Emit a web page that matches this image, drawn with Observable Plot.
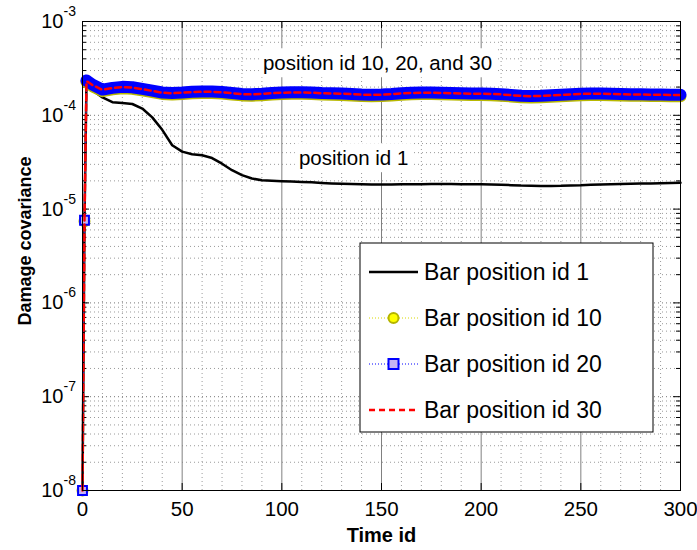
<!DOCTYPE html>
<html>
<head>
<meta charset="utf-8">
<script src="https://cdn.jsdelivr.net/npm/d3@7"></script>
<script src="https://cdn.jsdelivr.net/npm/@observablehq/plot@0.6"></script>
<style>
  html, body { margin: 0; padding: 0; background: #fff; }
  svg { display: block; }
</style>
</head>
<body>
<div id="chart"></div>
<script>
// ---- data ----
const timeId = [0, 1, 2, 3, 5, 10, 15, 20, 25, 30, 35, 40, 45, 50, 55, 60, 65, 70, 75, 80, 85, 90, 95, 100,
  105, 110, 115, 120, 125, 130, 135, 140, 145, 150, 155, 160, 165, 170, 175, 180, 185, 190, 195, 200,
  205, 210, 215, 220, 225, 230, 235, 240, 245, 250, 255, 260, 265, 270, 275, 280, 285, 290, 295, 300];

const pos1 = [1e-8, 7.5e-6, 2.25e-4, 2.1e-4, 1.85e-4, 1.55e-4, 1.38e-4, 1.35e-4, 1.32e-4, 1.18e-4,
  9.5e-5, 7.0e-5, 4.8e-5, 4.1e-5, 3.85e-5, 3.75e-5, 3.5e-5, 3.05e-5, 2.6e-5, 2.3e-5, 2.12e-5, 2.03e-5, 2.0e-5, 1.98e-5,
  1.97e-5, 1.95e-5, 1.93e-5, 1.9e-5, 1.88e-5, 1.86e-5, 1.85e-5, 1.84e-5, 1.83e-5, 1.83e-5, 1.83e-5, 1.84e-5,
  1.84e-5, 1.84e-5, 1.85e-5, 1.85e-5, 1.85e-5, 1.84e-5, 1.84e-5, 1.84e-5,
  1.83e-5, 1.82e-5, 1.8e-5, 1.78e-5, 1.77e-5, 1.76e-5, 1.76e-5, 1.77e-5, 1.79e-5, 1.8e-5, 1.82e-5, 1.83e-5,
  1.84e-5, 1.85e-5, 1.86e-5, 1.87e-5, 1.88e-5, 1.89e-5, 1.9e-5, 1.91e-5];

const pos10 = [1e-8, 7.4e-6, 2.26e-4, 2.19e-4, 2.04e-4, 1.81e-4, 1.89e-4, 1.94e-4, 1.92e-4, 1.84e-4,
  1.77e-4, 1.69e-4, 1.67e-4, 1.69e-4, 1.72e-4, 1.73e-4, 1.73e-4, 1.71e-4, 1.67e-4, 1.63e-4, 1.62e-4, 1.64e-4, 1.67e-4, 1.69e-4,
  1.7e-4, 1.7e-4, 1.69e-4, 1.67e-4, 1.66e-4, 1.65e-4, 1.63e-4, 1.61e-4, 1.6e-4, 1.61e-4, 1.63e-4, 1.66e-4,
  1.68e-4, 1.69e-4, 1.69e-4, 1.68e-4, 1.67e-4, 1.66e-4, 1.65e-4, 1.65e-4,
  1.64e-4, 1.62e-4, 1.59e-4, 1.56e-4, 1.55e-4, 1.56e-4, 1.58e-4, 1.6e-4, 1.62e-4, 1.64e-4, 1.65e-4, 1.65e-4,
  1.64e-4, 1.63e-4, 1.62e-4, 1.62e-4, 1.61e-4, 1.61e-4, 1.6e-4, 1.6e-4];

const pos20 = [1e-8, 7.6e-6, 2.35e-4, 2.27e-4, 2.12e-4, 1.88e-4, 1.96e-4, 2.01e-4, 1.99e-4, 1.91e-4,
  1.83e-4, 1.75e-4, 1.73e-4, 1.75e-4, 1.78e-4, 1.79e-4, 1.79e-4, 1.77e-4, 1.73e-4, 1.69e-4, 1.68e-4, 1.7e-4, 1.73e-4, 1.75e-4,
  1.76e-4, 1.76e-4, 1.75e-4, 1.73e-4, 1.72e-4, 1.71e-4, 1.69e-4, 1.67e-4, 1.66e-4, 1.67e-4, 1.69e-4, 1.72e-4,
  1.74e-4, 1.75e-4, 1.75e-4, 1.74e-4, 1.73e-4, 1.72e-4, 1.71e-4, 1.71e-4,
  1.7e-4, 1.68e-4, 1.65e-4, 1.62e-4, 1.61e-4, 1.62e-4, 1.64e-4, 1.66e-4, 1.68e-4, 1.7e-4, 1.71e-4, 1.71e-4,
  1.7e-4, 1.69e-4, 1.68e-4, 1.68e-4, 1.67e-4, 1.67e-4, 1.66e-4, 1.66e-4];

const pos30 = [1e-8, 7.5e-6, 2.3e-4, 2.25e-4, 2.1e-4, 1.87e-4, 1.95e-4, 2.0e-4, 1.98e-4, 1.9e-4,
  1.82e-4, 1.74e-4, 1.72e-4, 1.74e-4, 1.77e-4, 1.78e-4, 1.78e-4, 1.76e-4, 1.72e-4, 1.68e-4, 1.67e-4, 1.69e-4, 1.72e-4, 1.74e-4,
  1.75e-4, 1.75e-4, 1.74e-4, 1.72e-4, 1.71e-4, 1.7e-4, 1.68e-4, 1.66e-4, 1.65e-4, 1.66e-4, 1.68e-4, 1.71e-4,
  1.73e-4, 1.74e-4, 1.74e-4, 1.73e-4, 1.72e-4, 1.71e-4, 1.7e-4, 1.7e-4,
  1.69e-4, 1.67e-4, 1.64e-4, 1.61e-4, 1.6e-4, 1.61e-4, 1.63e-4, 1.65e-4, 1.67e-4, 1.69e-4, 1.7e-4, 1.7e-4,
  1.69e-4, 1.68e-4, 1.67e-4, 1.67e-4, 1.66e-4, 1.66e-4, 1.65e-4, 1.65e-4];

const seriesNames = ["Bar position id 1", "Bar position id 10", "Bar position id 20", "Bar position id 30"];
const xTicks = [0, 50, 100, 150, 200, 250, 300];
const yDecades = [1e-8, 1e-7, 1e-6, 1e-5, 1e-4, 1e-3];
const yExponents = ["-8", "-7", "-6", "-5", "-4", "-3"];
const annotations = [
  {t: 148, v: 3.55e-4, label: "position id 10, 20, and 30"},
  {t: 136, v: 3.45e-5, label: "position id 1"}
];
const xLabel = "Time id";
const yLabel = "Damage covariance";

// ---- derived tables ----
const rows = timeId.map((t, i) => ({t, p1: pos1[i], p10: pos10[i], p20: pos20[i], p30: pos30[i]}));
const bandRows = rows.filter(d => d.t >= 2);
const earlyRows = rows.filter(d => d.t < 2);
const xMinor = d3.range(10, 300, 10).filter(v => v % 50 !== 0);
const xMajorGrid = xTicks.filter(v => v > 0 && v < 300);
const yMinor = [];
for (let k = -8; k < -3; k++) for (let m = 2; m <= 9; m++) yMinor.push(m * Math.pow(10, k));

const W = 697, H = 550, ML = 82, MR = 17, MT = 21, MB = 60;
const PW = W - ML - MR, PH = H - MT - MB;
const font = "'Liberation Sans', Arial, Helvetica, sans-serif";

const chart = Plot.plot({
  width: W, height: H,
  marginLeft: ML, marginRight: MR, marginTop: MT, marginBottom: MB,
  style: {fontFamily: font, background: "#fff", color: "#000"},
  x: {domain: [0, 300]},
  y: {type: "log", domain: [1e-8, 1e-3]},
  marks: [
    // grid
    Plot.ruleX(xMinor, {stroke: "#9a9a9a", strokeWidth: 1, strokeDasharray: "1,3"}),
    Plot.ruleY(yMinor, {stroke: "#9a9a9a", strokeWidth: 1, strokeDasharray: "1,3"}),
    Plot.ruleY(yDecades.slice(1, -1), {stroke: "#777", strokeWidth: 1, strokeDasharray: "1,3"}),
    Plot.ruleX(xMajorGrid, {stroke: "#808080", strokeWidth: 1}),
    // inward ticks
    Plot.tickY(yDecades, {y: d => d, insetRight: PW - 7, stroke: "#000"}),
    Plot.tickY(yDecades, {y: d => d, insetLeft: PW - 7, stroke: "#000"}),
    Plot.tickY(yMinor, {y: d => d, insetRight: PW - 4, stroke: "#000"}),
    Plot.tickY(yMinor, {y: d => d, insetLeft: PW - 4, stroke: "#000"}),
    Plot.tickX(xTicks, {x: d => d, insetTop: PH - 7, stroke: "#000"}),
    Plot.tickX(xTicks, {x: d => d, insetBottom: PH - 7, stroke: "#000"}),
    // series: position id 1 (black)
    Plot.line(rows, {x: "t", y: "p1", stroke: "#000", strokeWidth: 2.5}),
    // position id 10 (yellow circles, dotted)
    Plot.line(rows, {x: "t", y: "p10", stroke: "#d8d800", strokeWidth: 1, strokeDasharray: "1,2"}),
    Plot.line(bandRows, {x: "t", y: "p10", stroke: "#b8b800", strokeWidth: 12, strokeLinecap: "round", strokeLinejoin: "round"}),
    Plot.dot(earlyRows, {x: "t", y: "p10", r: 5, fill: "#ffff00", stroke: "#b4b400", strokeWidth: 2}),
    // position id 20 (blue squares, dotted)
    Plot.line(rows, {x: "t", y: "p20", stroke: "#0000ff", strokeWidth: 1, strokeDasharray: "1,2"}),
    Plot.line(bandRows, {x: "t", y: "p20", stroke: "#0000ff", strokeWidth: 12, strokeLinecap: "round", strokeLinejoin: "round"}),
    Plot.dot(earlyRows, {x: "t", y: "p20", symbol: "square", r: 5, fill: "#c8b4f4", stroke: "#0000ff", strokeWidth: 2}),
    // position id 30 (red dashed)
    Plot.line(rows, {x: "t", y: "p30", stroke: "#ff0000", strokeWidth: 2.5, strokeDasharray: "6,4"}),
    // annotations
    Plot.text(annotations, {x: "t", y: "v", text: "label", fontSize: 20.5, fill: "#000"}),
    // frame
    Plot.frame({stroke: "#000", strokeWidth: 1}),
    // axes
    Plot.axisX(xTicks, {tickSize: 0, tickPadding: 11, fontSize: 20.5, label: null}),
    Plot.axisY(yDecades, {tickSize: 0, tickFormat: () => "", label: null}),
    Plot.text(yDecades, {y: d => d, frameAnchor: "left", text: () => "10", textAnchor: "end", lineAnchor: "middle", dx: -19, fontSize: 20}),
    Plot.text(yDecades, {y: d => d, frameAnchor: "left", text: (d, i) => yExponents[i], textAnchor: "start", lineAnchor: "middle", dx: -19, dy: -10, fontSize: 14}),
    Plot.text([xLabel], {frameAnchor: "bottom", text: d => d, textAnchor: "middle", lineAnchor: "middle", dy: 45, fontSize: 20, fontWeight: "bold"}),
    Plot.text([yLabel], {frameAnchor: "left", text: d => d, textAnchor: "middle", lineAnchor: "middle", rotate: -90, dx: -57, dy: -15, fontSize: 18, fontWeight: "bold"})
  ]
});

document.getElementById("chart").appendChild(chart);

// white boxes behind annotation texts
const svg = d3.select(chart);
svg.selectAll("text").each(function() {
  const txt = this.textContent;
  if (annotations.some(a => a.label === txt)) {
    const bb = this.getBBox();
    const host = this.parentNode;
    const rect = document.createElementNS("http://www.w3.org/2000/svg", "rect");
    rect.setAttribute("x", bb.x - 4);
    rect.setAttribute("y", bb.y - 3);
    rect.setAttribute("width", bb.width + 8);
    rect.setAttribute("height", bb.height + 6);
    rect.setAttribute("fill", "#fff");
    rect.setAttribute("transform", this.getAttribute("transform") || "");
    host.insertBefore(rect, this);
  }
});

// legend
const lg = svg.append("g").attr("font-family", font).attr("font-size", 23).attr("text-anchor", "start");
const lx = 360, ly = 243, lw = 293, lh = 189;
lg.append("rect").attr("x", lx).attr("y", ly).attr("width", lw).attr("height", lh)
  .attr("fill", "#fff").attr("stroke", "#000").attr("stroke-width", 1);
const entryY = [272, 318, 364, 410];
const sx1 = 369, sx2 = 418, smid = (sx1 + sx2) / 2;
seriesNames.forEach((name, i) => {
  const y = entryY[i];
  const line = lg.append("line").attr("x1", sx1).attr("x2", sx2).attr("y1", y).attr("y2", y);
  if (i === 0) line.attr("stroke", "#000").attr("stroke-width", 2.5);
  if (i === 1) {
    line.attr("stroke", "#d8d800").attr("stroke-width", 1).attr("stroke-dasharray", "1,2");
    lg.append("circle").attr("cx", smid).attr("cy", y).attr("r", 5).attr("fill", "#ffff00").attr("stroke", "#b4b400").attr("stroke-width", 2);
  }
  if (i === 2) {
    line.attr("stroke", "#0000ff").attr("stroke-width", 1).attr("stroke-dasharray", "1,2");
    lg.append("rect").attr("x", smid - 5).attr("y", y - 5).attr("width", 10).attr("height", 10).attr("fill", "#c8b4f4").attr("stroke", "#0000ff").attr("stroke-width", 2);
  }
  if (i === 3) line.attr("stroke", "#ff0000").attr("stroke-width", 2.5).attr("stroke-dasharray", "6,4");
  lg.append("text").attr("x", 424).attr("y", y).attr("dy", "0.35em").attr("fill", "#000").attr("text-anchor", "start").text(name);
});
</script>
</body>
</html>
